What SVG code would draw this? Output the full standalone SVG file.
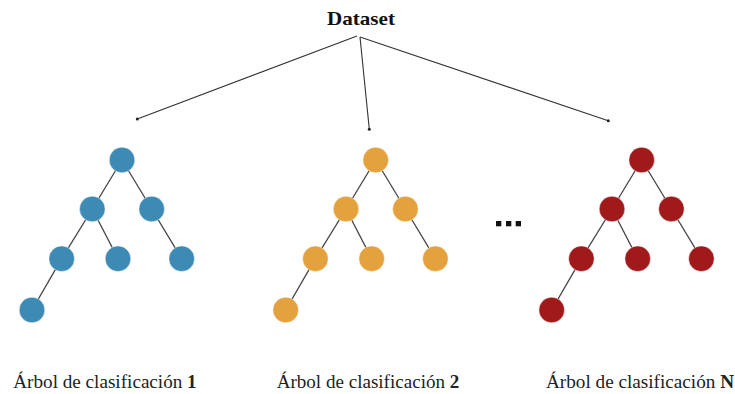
<svg xmlns="http://www.w3.org/2000/svg" width="735" height="394" viewBox="0 0 735 394">
  <defs>
    <style>
      .title { font-family: "Liberation Serif", "DejaVu Serif", serif; font-weight: bold; font-size: 19.5px; fill: #111; }
      .label { font-family: "Liberation Serif", "DejaVu Serif", serif; font-size: 18px; fill: #222; }
      .label .num { font-weight: bold; }
      .split { stroke: #333; stroke-width: 1.1; fill: none; marker-end: url(#dot); }
      .edge { stroke: #444; stroke-width: 1.3; }
      .node { stroke: #ffffff; stroke-width: 0.8; stroke-opacity: 0.6; }
      .blue { fill: #3d8ab4; }
      .orange { fill: #e4a23e; }
      .red { fill: #a0191b; }
      .more { fill: #111; }
    </style>
    <marker id="dot" viewBox="0 0 4 4" refX="2" refY="2" markerWidth="4" markerHeight="4" markerUnits="userSpaceOnUse">
      <circle cx="2" cy="2" r="1.5" fill="#222"/>
    </marker>
  </defs>

  <rect width="735" height="394" fill="#ffffff"/>

  <!-- root label -->
  <g id="dataset">
    <text class="title" x="361" y="25" text-anchor="middle" textLength="68" lengthAdjust="spacingAndGlyphs">Dataset</text>
  </g>

  <!-- connectors: dataset to each tree, and tree edges -->
  <g id="connectors">
    <line class="split" x1="357" y1="36" x2="137.3" y2="119"/>
    <line class="split" x1="360" y1="37" x2="369.3" y2="129.3"/>
    <line class="split" x1="360" y1="37" x2="608.3" y2="120.7"/>

    <!-- tree 1 edges -->
    <g transform="translate(0,0)">
      <line class="edge" x1="122" y1="160" x2="92.3" y2="209"/>
      <line class="edge" x1="122" y1="160" x2="151.7" y2="209"/>
      <line class="edge" x1="92.3" y1="209" x2="61.7" y2="258.7"/>
      <line class="edge" x1="92.3" y1="209" x2="118" y2="258.7"/>
      <line class="edge" x1="151.7" y1="209" x2="181.7" y2="258.7"/>
      <line class="edge" x1="61.7" y1="258.7" x2="32" y2="310"/>
    </g>
    <!-- tree 2 edges -->
    <g transform="translate(253.7,0)">
      <line class="edge" x1="122" y1="160" x2="92.3" y2="209"/>
      <line class="edge" x1="122" y1="160" x2="151.7" y2="209"/>
      <line class="edge" x1="92.3" y1="209" x2="61.7" y2="258.7"/>
      <line class="edge" x1="92.3" y1="209" x2="118" y2="258.7"/>
      <line class="edge" x1="151.7" y1="209" x2="181.7" y2="258.7"/>
      <line class="edge" x1="61.7" y1="258.7" x2="32" y2="310"/>
    </g>
    <!-- tree N edges -->
    <g transform="translate(519.7,0)">
      <line class="edge" x1="122" y1="160" x2="92.3" y2="209"/>
      <line class="edge" x1="122" y1="160" x2="151.7" y2="209"/>
      <line class="edge" x1="92.3" y1="209" x2="61.7" y2="258.7"/>
      <line class="edge" x1="92.3" y1="209" x2="118" y2="258.7"/>
      <line class="edge" x1="151.7" y1="209" x2="181.7" y2="258.7"/>
      <line class="edge" x1="61.7" y1="258.7" x2="32" y2="310"/>
    </g>
  </g>

  <!-- tree 1 nodes -->
  <g id="tree1" class="blue">
    <g id="t1-root"><circle class="node" cx="122" cy="160" r="12.8"/></g>
    <g id="t1-a"><circle class="node" cx="92.3" cy="209" r="12.8"/></g>
    <g id="t1-b"><circle class="node" cx="151.7" cy="209" r="12.8"/></g>
    <g id="t1-aa"><circle class="node" cx="61.7" cy="258.7" r="12.8"/></g>
    <g id="t1-ab"><circle class="node" cx="118" cy="258.7" r="12.8"/></g>
    <g id="t1-bb"><circle class="node" cx="181.7" cy="258.7" r="12.8"/></g>
    <g id="t1-aaa"><circle class="node" cx="32" cy="310" r="12.8"/></g>
  </g>

  <!-- tree 2 nodes -->
  <g id="tree2" class="orange" transform="translate(253.7,0)">
    <g id="t2-root"><circle class="node" cx="122" cy="160" r="12.8"/></g>
    <g id="t2-a"><circle class="node" cx="92.3" cy="209" r="12.8"/></g>
    <g id="t2-b"><circle class="node" cx="151.7" cy="209" r="12.8"/></g>
    <g id="t2-aa"><circle class="node" cx="61.7" cy="258.7" r="12.8"/></g>
    <g id="t2-ab"><circle class="node" cx="118" cy="258.7" r="12.8"/></g>
    <g id="t2-bb"><circle class="node" cx="181.7" cy="258.7" r="12.8"/></g>
    <g id="t2-aaa"><circle class="node" cx="32" cy="310" r="12.8"/></g>
  </g>

  <!-- tree N nodes -->
  <g id="treeN" class="red" transform="translate(519.7,0)">
    <g id="tN-root"><circle class="node" cx="122" cy="160" r="12.8"/></g>
    <g id="tN-a"><circle class="node" cx="92.3" cy="209" r="12.8"/></g>
    <g id="tN-b"><circle class="node" cx="151.7" cy="209" r="12.8"/></g>
    <g id="tN-aa"><circle class="node" cx="61.7" cy="258.7" r="12.8"/></g>
    <g id="tN-ab"><circle class="node" cx="118" cy="258.7" r="12.8"/></g>
    <g id="tN-bb"><circle class="node" cx="181.7" cy="258.7" r="12.8"/></g>
    <g id="tN-aaa"><circle class="node" cx="32" cy="310" r="12.8"/></g>
  </g>

  <!-- ellipsis between tree 2 and tree N -->
  <g id="ellipsis" class="more">
    <rect x="496" y="221" width="5.3" height="5.3"/>
    <rect x="506" y="221" width="5.3" height="5.3"/>
    <rect x="515.7" y="221" width="5.3" height="5.3"/>
  </g>

  <!-- tree captions -->
  <g id="captions">
    <text class="label" x="13.3" y="388.3" textLength="183.4" lengthAdjust="spacingAndGlyphs">Árbol de clasificación <tspan class="num">1</tspan></text>
    <text class="label" x="276.7" y="388.3" textLength="182.6" lengthAdjust="spacingAndGlyphs">Árbol de clasificación <tspan class="num">2</tspan></text>
    <text class="label" x="546" y="388.3" textLength="188" lengthAdjust="spacingAndGlyphs">Árbol de clasificación <tspan class="num">N</tspan></text>
  </g>
</svg>
